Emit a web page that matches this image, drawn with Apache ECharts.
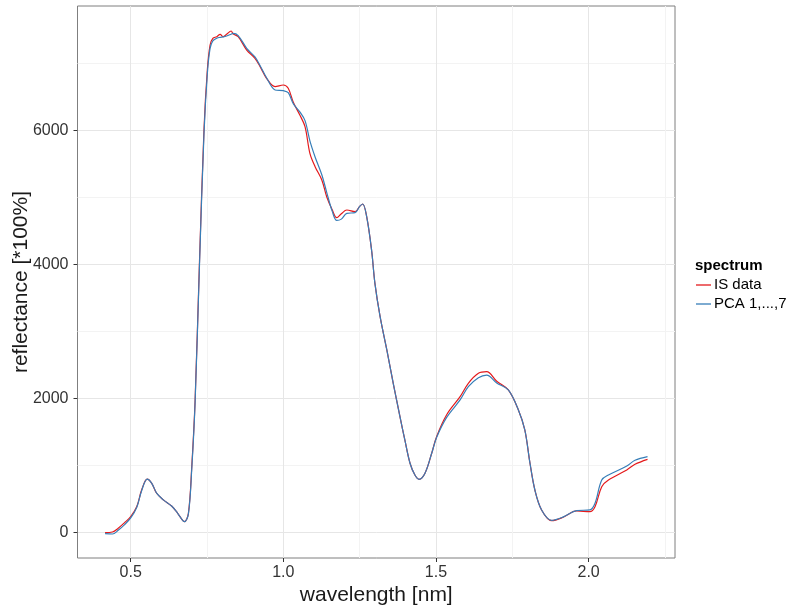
<!DOCTYPE html>
<html>
<head>
<meta charset="utf-8">
<script src="https://cdn.jsdelivr.net/npm/echarts@6/dist/echarts.min.js"></script>
<style>html,body{margin:0;padding:0;background:#fff;}#c{width:797px;height:609px;}</style>
</head>
<body>
<div id="c"></div>
<script>
var wavelength = [0.416,0.44,0.459,0.48,0.50,0.52,0.536,0.554,0.569,0.585,0.607,0.634,0.654,0.676,0.689,0.70,0.711,0.725,0.740,0.751,0.760,0.769,0.782,0.793,0.803,0.814,0.829,0.836,0.852,0.880,0.907,0.924,0.945,0.973,1.000,1.016,1.033,1.054,1.071,1.087,1.104,1.126,1.142,1.160,1.175,1.190,1.208,1.235,1.250,1.260,1.273,1.289,1.300,1.317,1.339,1.360,1.382,1.398,1.415,1.431,1.445,1.464,1.486,1.502,1.535,1.579,1.606,1.639,1.666,1.699,1.737,1.770,1.791,1.808,1.824,1.846,1.879,1.917,1.961,2.004,2.021,2.043,2.065,2.125,2.152,2.193];
var isData = [0,10,66,150,240,390,640,800,737,588,490,398,289,164,289,985,1981,4000,6010,6906,7279,7379,7403,7438,7403,7438,7488,7443,7403,7204,7080,6955,6782,6657,6682,6633,6420,6234,6060,5662,5463,5264,5015,4820,4701,4760,4816,4791,4870,4906,4716,4219,3722,3224,2727,2230,1731,1384,1036,861,797,887,1185,1433,1760,2030,2230,2379,2403,2260,2130,1831,1533,1036,637,339,179,230,324,314,388,687,786,936,1021,1095];
var pcaData = [-15,-20,35,120,220,380,630,800,737,590,490,398,289,164,280,950,1950,3950,5950,6850,7230,7340,7380,7393,7400,7413,7440,7453,7420,7230,7100,6970,6790,6608,6597,6567,6400,6280,6150,5848,5608,5343,5080,4800,4660,4680,4767,4776,4870,4906,4716,4219,3722,3224,2727,2230,1731,1384,1036,861,797,887,1185,1420,1720,1981,2179,2313,2353,2235,2130,1831,1533,1036,637,339,185,235,330,339,440,786,861,995,1080,1134];
var xMajor = [0.5,1.0,1.5,2.0];
var xMinor = [0.75,1.25,1.75,2.25];
var yMajor = [0,2000,4000,6000];
var yMinor = [1000,3000,5000,7000];
var seriesNames = ['IS data','PCA 1,...,7'];

function pairs(xs, ys){ return xs.map(function(x,i){return [x, ys[i]];}); }
var FONT = 'Liberation Sans, Arial, sans-serif';
var xMin = 0.3257, xMax = 2.283, yMin = -378, yMax = 7861;

var chart = echarts.init(document.getElementById('c'));
chart.setOption({
  animation: false,
  backgroundColor: '#fff',
  grid: {left: 77.5, top: 6, right: 122, bottom: 51, containLabel: false, outerBoundsMode: 'none', show: true, borderColor: '#7f7f7f', borderWidth: 1, backgroundColor: 'transparent'},
  title: {text: 'spectrum', left: 690, top: 253, textStyle: {fontFamily: FONT, fontSize: 15, fontWeight: 'bold', color: '#000'}},
  legend: {
    orient: 'vertical', left: 691, top: 272, itemWidth: 15, itemHeight: 1.3, itemGap: 3, icon: 'rect',
    textStyle: {fontFamily: FONT, fontSize: 15, color: '#000', padding: [0,0,0,-2], lineHeight: 16},
    data: seriesNames
  },
  xAxis: [{
    type: 'value', min: xMin, max: xMax,
    name: 'wavelength [nm]', nameLocation: 'middle', nameGap: 27, nameMoveOverlap: false,
    nameTextStyle: {fontFamily: FONT, fontSize: 21, color: '#1a1a1a'},
    axisLine: {show: false, onZero: false},
    axisTick: {show: true, length: 4, customValues: xMajor, lineStyle: {color: '#333'}},
    axisLabel: {customValues: xMajor, margin: 7, fontFamily: FONT, fontSize: 16, color: '#333', formatter: function(v){return v.toFixed(1);}},
    splitLine: {show: true, lineStyle: {color: '#e6e6e6', width: 1}}
  },{
    type: 'value', min: xMin, max: xMax, position: 'bottom',
    axisLine: {show: false, onZero: false}, axisLabel: {show: false, customValues: xMinor},
    axisTick: {show: false, customValues: xMinor},
    splitLine: {show: true, lineStyle: {color: '#f3f3f3', width: 1}}
  }],
  yAxis: [{
    type: 'value', min: yMin, max: yMax,
    name: 'reflectance [*100%]', nameLocation: 'middle', nameGap: 46, nameMoveOverlap: false,
    nameTextStyle: {fontFamily: FONT, fontSize: 21, color: '#1a1a1a'},
    axisLine: {show: false, onZero: false},
    axisTick: {show: true, length: 4, customValues: yMajor, lineStyle: {color: '#333'}},
    axisLabel: {customValues: yMajor, margin: 9, fontFamily: FONT, fontSize: 16, color: '#333', formatter: function(v){return String(v);}},
    splitLine: {show: true, lineStyle: {color: '#e6e6e6', width: 1}}
  },{
    type: 'value', min: yMin, max: yMax, position: 'left',
    axisLine: {show: false, onZero: false}, axisLabel: {show: false, customValues: yMinor},
    axisTick: {show: false, customValues: yMinor},
    splitLine: {show: true, lineStyle: {color: '#f3f3f3', width: 1}}
  }],
  series: [{
    name: seriesNames[0], type: 'line', data: pairs(wavelength, isData), showSymbol: false, symbol: 'none',
    smooth: 0.35, lineStyle: {color: '#e41a1c', width: 1.2}, itemStyle: {color: '#e41a1c'}
  },{
    name: seriesNames[1], type: 'line', data: pairs(wavelength, pcaData), showSymbol: false, symbol: 'none',
    smooth: 0.35, lineStyle: {color: '#377eb8', width: 1.2}, itemStyle: {color: '#377eb8'}
  }]
});
</script>
</body>
</html>
